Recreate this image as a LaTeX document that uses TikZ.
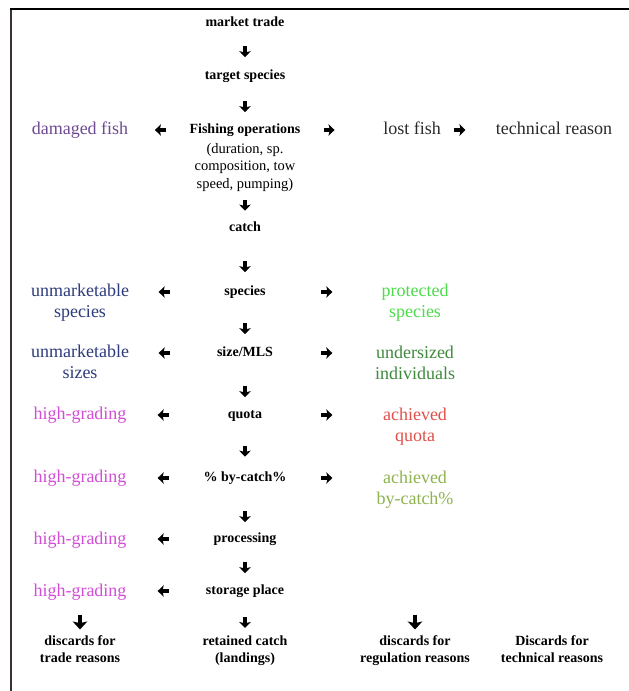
\documentclass[tikz,border=0pt]{standalone}
\usepackage{fontspec}
\setmainfont{Liberation Serif}[UprightFont=*, BoldFont=* Bold, ItalicFont=* Italic, BoldItalicFont=* Bold Italic]
\usetikzlibrary{arrows.meta,decorations.markings}
\definecolor{cDam}{HTML}{6E4A92}
\definecolor{cUnm}{HTML}{2E3C7C}
\definecolor{cHg}{HTML}{D24ED6}
\definecolor{cProt}{HTML}{4CDC4C}
\definecolor{cUnd}{HTML}{3F8A3F}
\definecolor{cAq}{HTML}{E0504A}
\definecolor{cAb}{HTML}{8FB34F}
\definecolor{cLost}{HTML}{2A2A2A}
\definecolor{cFrame}{HTML}{3A3232}
\tikzset{
  hub/.style={font=\rmfamily\bfseries\fontsize{14}{16.5}\selectfont, inner sep=0pt,
    text height=9.8pt, text depth=3.5pt, text=black},
  hubm/.style={font=\rmfamily\bfseries\fontsize{14}{16.5}\selectfont, inner sep=0pt,
    align=center, anchor=north, text=black},
  detail/.style={font=\rmfamily\fontsize{14.5}{17.5}\selectfont, inner sep=0pt,
    align=center, anchor=north, text=black},
  big/.style={font=\rmfamily\fontsize{18}{21}\selectfont, inner sep=0pt,
    text height=12.6pt, text depth=4.5pt},
  bigm/.style={font=\rmfamily\fontsize{18}{21}\selectfont, inner sep=0pt,
    align=center, anchor=north},
  glyph/.style={line width=3.3pt, black,
    -{Stealth[length=6pt,width=11.5pt,inset=1.3pt]}},
  bigglyph/.style={line width=3.8pt, black,
    -{Stealth[length=8pt,width=14.5pt,inset=1.6pt]}},
  flow/.style={postaction=decorate, decoration={markings,
    mark=at position #1 with {\draw[glyph] (-5.5pt,0pt) -- (5.5pt,0pt);}}},
  bigflow/.style={postaction=decorate, decoration={markings,
    mark=at position #1 with {\draw[bigglyph] (-7.5pt,0pt) -- (7.5pt,0pt);}}}
}
\begin{document}
\begin{tikzpicture}[x=1pt,y=-1pt]
\useasboundingbox[fill=white] (0,0) rectangle (629,691);
% frame
\draw[cFrame, line width=1.6pt] (11,691) -- (11,9);
\draw[black, line width=2.4pt] (10,9) -- (629,9);

% centre column
\node[hub] (mt) at (245,23) {market trade};
\node[hub] (ts) at (245,76) {target species};
\node[hub] (fo) at (245,130) {Fishing operations};
\node[detail] (fd) at (245,141) {\strut(duration, sp.\\composition, tow\\speed, pumping)};
\node[hub] (ca) at (245,228) {catch};
\node[hub] (sp) at (245,292) {species};
\node[hub] (sz) at (245,353) {size/MLS};
\node[hub] (qu) at (245,415) {quota};
\node[hub] (bc) at (245,478) {\% by-catch\%};
\node[hub] (pr) at (245,539) {processing};
\node[hub] (st) at (245,591) {storage place};
\node[hubm] (rc) at (245,634) {\strut retained catch\\(landings)};

% left column
\node[big, text=cDam] (df) at (80,130) {damaged fish};
\node[bigm, text=cUnm] (us) at (80,281.4) {\strut unmarketable\\species};
\node[bigm, text=cUnm] (uz) at (80,342.4) {\strut unmarketable\\sizes};
\node[big, text=cHg] (hg1) at (80,415) {high-grading};
\node[big, text=cHg] (hg2) at (80,478) {high-grading};
\node[big, text=cHg] (hg3) at (80,540) {high-grading};
\node[big, text=cHg] (hg4) at (80,592) {high-grading};
\node[hubm] (dt) at (80,634) {\strut discards for\\trade reasons};

% right columns
\node[big, text=cLost] (lf) at (412,130) {lost fish};
\node[big, text=cLost] (tr) at (554,130) {technical reason};
\node[bigm, text=cProt] (ps) at (415,282) {\strut protected\\species};
\node[bigm, text=cUnd] (ui) at (415,343.5) {\strut undersized\\individuals};
\node[bigm, text=cAq] (aq) at (415,405.5) {\strut achieved\\quota};
\node[bigm, text=cAb] (ab) at (415,468.5) {\strut achieved\\by-catch\%};
\node[hubm] (dr) at (415,634) {\strut discards for\\regulation reasons};
\node[hubm] (dx) at (552,634) {\strut Discards for\\technical reasons};

% vertical flow in the centre
\path[flow=-17.5pt] (mt) -- (ts);
\path[flow=-16.5pt] (ts) -- (fo);
\path[flow=-16pt] (fd) -- (ca);
\path[flow=-18.5pt] (ca) -- (sp);
\path[flow=-17.5pt] (sp) -- (sz);
\path[flow=-16.5pt] (sz) -- (qu);
\path[flow=-20pt] (qu) -- (bc);
\path[flow=-15.5pt] (bc) -- (pr);
\path[flow=-16.5pt] (pr) -- (st);
\path[flow=-11.5pt] (st) -- (rc);

% to the left
\path[flow=-32pt] (fo) -- (fo -| df.east);
\path[flow=-35pt] (sp) -- (sp -| us.east);
\path[flow=-35pt] (sz) -- (sz -| uz.east);
\path[flow=-36.5pt] (qu) -- (qu -| hg1.east);
\path[flow=-36.5pt] (bc) -- (bc -| hg2.east);
\path[flow=-36.5pt] (pr) -- (pr -| hg3.east);
\path[flow=-36.5pt] (st) -- (st -| hg4.east);

% to the right
\path[flow=-54pt] (fo) -- (lf);
\path[flow=19pt] (lf) -- (tr);
\path[flow=-54.5pt] (sp) -- (sp -| ps.west);
\path[flow=-48pt] (sz) -- (sz -| ui.west);
\path[flow=-56pt] (qu) -- (qu -| aq.west);
\path[flow=-49.5pt] (bc) -- (bc -| ab.west);

% into the discard categories
\path[bigflow=-12pt] (hg4) -- (dt);
\path[bigflow=-12pt] (ab) -- (dr);
\end{tikzpicture}
\end{document}
